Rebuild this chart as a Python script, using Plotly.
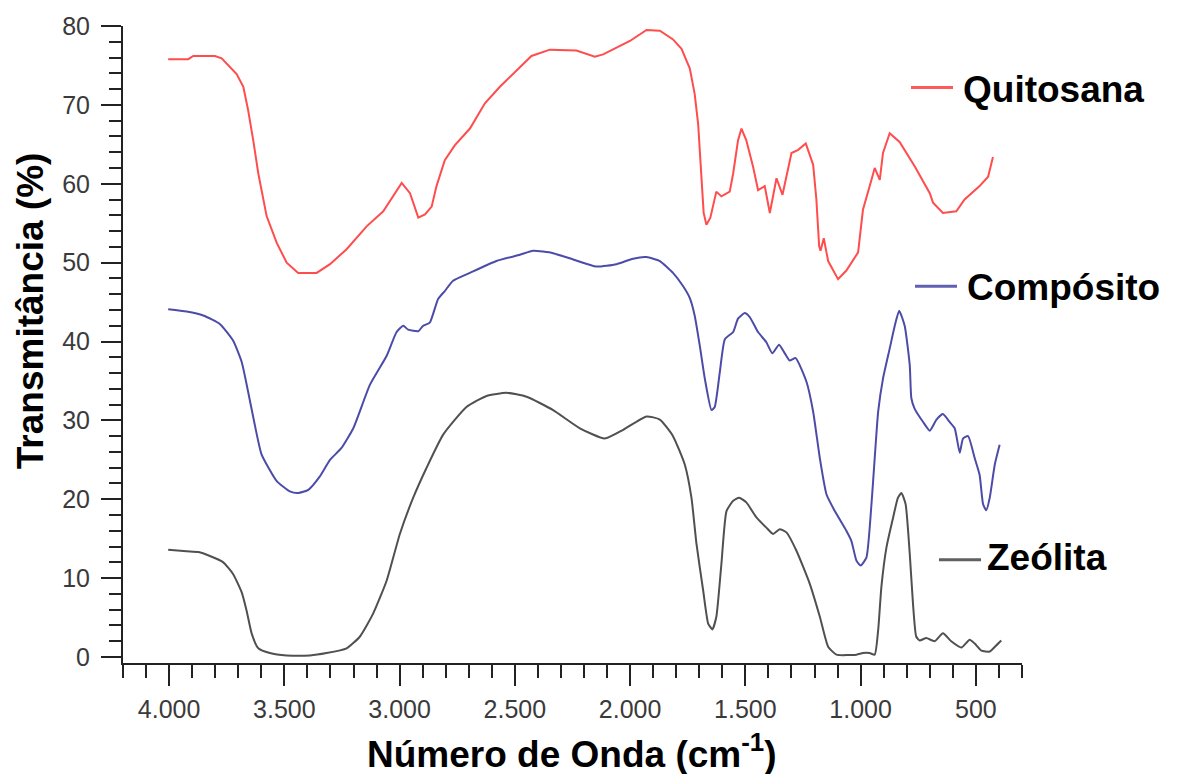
import plotly.graph_objects as go

# FTIR spectra: wavenumber (cm-1) and transmittance (%)
wn_quitosana = [4004, 3917, 3895, 3801, 3772, 3707, 3678, 3657, 3635, 3613, 3577, 3533, 3490, 3440,
                3360, 3302, 3230, 3143, 3071, 2991, 2955, 2919, 2890, 2861, 2840, 2804, 2760, 2695,
                2630, 2565, 2428, 2348, 2233, 2153, 2117, 2001, 1929, 1871, 1814, 1777, 1741, 1720,
                1705, 1691, 1681, 1669, 1652, 1626, 1604, 1568, 1553, 1532, 1517, 1496, 1467, 1445,
                1416, 1394, 1365, 1339, 1300, 1271, 1238, 1206, 1192, 1180, 1174, 1160, 1141, 1098,
                1062, 1011, 990, 953, 939, 917, 903, 874, 831, 765, 700, 686, 643, 585, 549, 484,
                447, 426]
t_quitosana = [75.8, 75.8, 76.2, 76.2, 75.9, 73.9, 72.3, 69.3, 65.5, 61.3, 55.9, 52.5, 50.0, 48.7,
               48.7, 49.8, 51.7, 54.6, 56.5, 60.1, 58.8, 55.7, 56.1, 57.1, 59.7, 63.0, 64.9, 67.0,
               70.2, 72.3, 76.2, 77.0, 76.9, 76.1, 76.4, 78.1, 79.5, 79.4, 78.3, 77.1, 74.6, 71.4,
               67.6, 61.3, 56.3, 54.8, 55.7, 59.0, 58.4, 59.0, 61.3, 65.5, 67.0, 65.5, 62.2, 59.2,
               59.7, 56.3, 60.7, 58.6, 63.9, 64.3, 65.1, 62.4, 58.0, 52.1, 51.5, 53.1, 50.2, 47.9,
               49.0, 51.3, 56.7, 60.5, 62.0, 60.5, 63.9, 66.4, 65.3, 62.2, 58.8, 57.6, 56.3, 56.5,
               58.0, 59.7, 60.9, 63.4]

wn_composito = [4004, 3924, 3852, 3779, 3722, 3685, 3657, 3628, 3599, 3533, 3476, 3440, 3396, 3346,
                3302, 3252, 3201, 3129, 3056, 3013, 2984, 2963, 2919, 2898, 2869, 2833, 2804, 2768,
                2695, 2580, 2478, 2421, 2334, 2247, 2146, 2059, 1987, 1929, 1871, 1814, 1770, 1741,
                1720, 1698, 1676, 1647, 1633, 1611, 1589, 1553, 1532, 1503, 1481, 1445, 1409, 1383,
                1354, 1329, 1308, 1282, 1235, 1206, 1177, 1148, 1112, 1062, 1040, 1018, 1000, 975,
                953, 939, 924, 903, 874, 852, 833, 809, 787, 780, 766, 729, 700, 671, 643, 614, 592,
                570, 556, 534, 505, 484, 469, 455, 440, 418, 397]
t_composito = [44.1, 43.8, 43.3, 42.2, 40.1, 37.4, 33.6, 29.4, 25.7, 22.3, 21.0, 20.8, 21.2, 22.9,
               25.0, 26.5, 29.0, 34.5, 38.2, 41.2, 42.0, 41.5, 41.3, 42.0, 42.4, 45.4, 46.4, 47.7,
               48.7, 50.2, 51.0, 51.5, 51.2, 50.4, 49.5, 49.8, 50.5, 50.7, 50.2, 48.7, 47.0, 45.5,
               43.3, 39.5, 35.3, 31.3, 31.7, 36.1, 40.3, 41.2, 42.9, 43.6, 43.1, 41.2, 39.9, 38.5,
               39.6, 38.5, 37.6, 37.9, 34.9, 31.1, 25.2, 20.6, 18.5, 16.0, 14.7, 12.2, 11.6, 12.6,
               19.4, 25.2, 31.1, 35.3, 39.1, 42.0, 43.9, 42.0, 37.0, 32.8, 31.5, 29.8, 28.7, 30.1,
               30.8, 29.8, 29.0, 25.9, 27.7, 28.0, 25.2, 23.1, 19.4, 18.6, 20.2, 24.4, 26.9]

wn_zeolita = [4004, 3924, 3873, 3823, 3765, 3722, 3685, 3664, 3642, 3613, 3563, 3490, 3389, 3317,
              3230, 3172, 3115, 3056, 2999, 2941, 2883, 2811, 2710, 2623, 2536, 2449, 2334, 2218,
              2110, 2030, 1929, 1871, 1814, 1763, 1734, 1712, 1683, 1661, 1643, 1626, 1604, 1582,
              1553, 1527, 1496, 1452, 1409, 1380, 1351, 1322, 1279, 1221, 1177, 1141, 1105, 1018,
              990, 961, 939, 924, 910, 888, 859, 838, 823, 805, 787, 773, 759, 744, 715, 679, 643,
              607, 563, 527, 505, 476, 440, 411, 390]
t_zeolita = [13.6, 13.4, 13.3, 12.8, 12.0, 10.5, 8.2, 5.9, 3.0, 1.1, 0.5, 0.2, 0.2, 0.5,
             1.1, 2.6, 5.5, 9.7, 15.6, 20.2, 24.0, 28.2, 31.7, 33.1, 33.5, 33.0, 31.3, 29.0,
             27.7, 28.8, 30.5, 30.1, 28.0, 24.4, 20.2, 14.3, 8.4, 4.2, 3.5, 5.1, 11.8, 18.5,
             19.8, 20.2, 19.6, 17.7, 16.4, 15.6, 16.2, 15.8, 13.5, 9.3, 5.1, 1.3, 0.3, 0.3,
             0.5, 0.5, 0.3, 3.4, 8.9, 13.9, 17.7, 20.2, 20.8, 19.4, 13.1, 6.8, 2.6, 2.1, 2.4, 2.0,
             3.0, 2.0, 1.2, 2.2, 1.7, 0.8, 0.7, 1.5, 2.1]

series = [
    ("Quitosana", wn_quitosana, t_quitosana, "#ff4c4c", "linear"),
    ("Compósito", wn_composito, t_composito, "#4c4ca8", "spline"),
    ("Zeólita", wn_zeolita, t_zeolita, "#505050", "spline"),
]

y_ticks = [0, 10, 20, 30, 40, 50, 60, 70, 80]
x_ticks = [4000, 3500, 3000, 2500, 2000, 1500, 1000, 500]

W, H = 1181, 774
M_L, M_R, M_T, M_B = 123, 159, 22, 111
PW, PH = W - M_L - M_R, H - M_T - M_B


def px(x):
    return (x - M_L) / PW


def py(y):
    return (H - M_B - y) / PH


fig = go.Figure()
for name, wn, t, color, shape in series:
    fig.add_trace(go.Scatter(
        x=wn, y=t, mode="lines", name=name,
        line=dict(color=color, width=2, shape=shape, smoothing=0.5),
        showlegend=False,
    ))

tick_font = dict(family="Liberation Sans, Arial, sans-serif", size=25, color="#3a3a3a")
bold_font = dict(family="Liberation Sans, Arial, sans-serif", size=37, color="#000000",
                 weight="bold")

fig.update_layout(
    width=W, height=H,
    margin=dict(l=M_L, r=M_R, t=M_T, b=M_B, pad=0),
    paper_bgcolor="white", plot_bgcolor="white",
    separators=",.",
    xaxis=dict(
        range=[4200, 300], tickvals=x_ticks, tickformat=",d",
        showgrid=False, zeroline=False,
        showline=True, linecolor="#222222", linewidth=2,
        ticks="outside", ticklen=21, tickwidth=2, tickcolor="#222222",
        minor=dict(dtick=100, tick0=0, ticks="outside", ticklen=13, tickwidth=2, tickcolor="#222222"),
        tickfont=tick_font, ticklabelstandoff=2,
    ),
    yaxis=dict(
        range=[-0.76, 80], tickvals=y_ticks,
        showgrid=False, zeroline=False,
        showline=True, linecolor="#222222", linewidth=2,
        ticks="outside", ticklen=20, tickwidth=2, tickcolor="#222222",
        minor=dict(dtick=2, tick0=0, ticks="outside", ticklen=12, tickwidth=2, tickcolor="#222222"),
        tickfont=tick_font, ticklabelstandoff=6,
    ),
)

# axis titles
fig.add_annotation(
    xref="paper", yref="paper", x=px(572), y=py(752),
    text="Número de Onda (cm<sup>-1</sup>)", showarrow=False,
    xanchor="center", yanchor="middle", font=bold_font,
)
fig.add_annotation(
    xref="paper", yref="paper", x=px(30), y=py(309),
    text="Transmitância (%)", showarrow=False, textangle=-90,
    xanchor="center", yanchor="middle", font=bold_font,
)

# series labels next to each spectrum
labels = [
    ("Quitosana", "#ff5a5a", 911, 953, 84, 961, 86),
    ("Compósito", "#6060b4", 915, 957, 284, 965, 285),
    ("Zeólita", "#606060", 939, 981, 559, 985, 557),
]
for text, color, x0, x1, yl, xt, yt in labels:
    fig.add_shape(
        type="line", xref="paper", yref="paper",
        x0=px(x0), x1=px(x1), y0=py(yl), y1=py(yl),
        line=dict(color=color, width=3),
    )
    fig.add_annotation(
        xref="paper", yref="paper", x=px(xt), y=py(yt),
        text=text, showarrow=False, xanchor="left", yanchor="middle",
        font=bold_font,
    )

fig.write_html("out.html")
